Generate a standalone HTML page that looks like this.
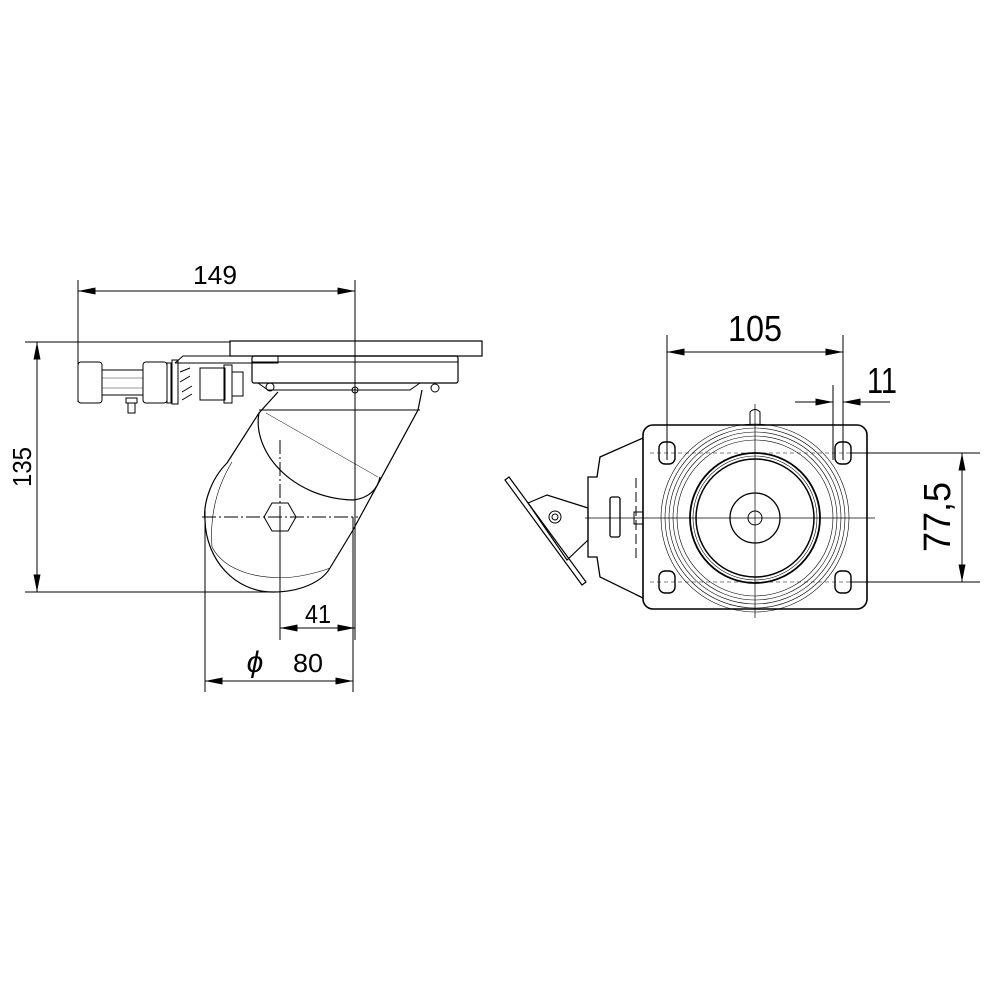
<!DOCTYPE html>
<html><head><meta charset="utf-8"><style>html,body{margin:0;padding:0;background:#fff}svg{display:block}</style></head>
<body>
<svg width="1000" height="1000" viewBox="0 0 1000 1000" xmlns="http://www.w3.org/2000/svg" font-family="Liberation Sans, sans-serif">
<defs>
<marker id="a" viewBox="0 0 10 4" refX="10" refY="2" markerWidth="24" markerHeight="7" markerUnits="userSpaceOnUse" orient="auto-start-reverse"><path d="M0,0 L10,2 L0,4Z" fill="#000"/></marker>
</defs>
<g stroke="#000" fill="none" stroke-width="1">
<line x1="78" y1="280" x2="78" y2="402"/>
<line x1="355" y1="280" x2="355" y2="640"/>
<line x1="78" y1="291" x2="355" y2="291" marker-start="url(#a)" marker-end="url(#a)"/>
<line x1="25" y1="342" x2="230" y2="342"/>
<line x1="25" y1="592" x2="275" y2="592"/>
<line x1="37" y1="342" x2="37" y2="592" marker-start="url(#a)" marker-end="url(#a)"/>
<line x1="280" y1="520" x2="280" y2="640"/>
<line x1="280" y1="628" x2="355" y2="628" marker-start="url(#a)" marker-end="url(#a)"/>
<line x1="205" y1="510" x2="205" y2="692"/>
<line x1="353" y1="517" x2="353" y2="692"/>
<line x1="205" y1="681" x2="353" y2="681" marker-start="url(#a)" marker-end="url(#a)"/>
<line x1="202" y1="517" x2="358" y2="517" stroke-dasharray="14,3,2,3"/>
<line x1="280" y1="440" x2="280" y2="610" stroke-dasharray="14,3,2,3"/>
<rect x="230" y="341" width="252" height="15" stroke-width="1.2"/>
<rect x="252" y="356" width="206" height="27" rx="2" stroke-width="1.2"/>
<line x1="252" y1="362" x2="458" y2="362"/>
<path d="M175,363 L278,363 L278,356 L183,356 L175,363"/>
<path d="M258,383 L268,390 L410,390 L420,383"/>
<line x1="259" y1="410" x2="420" y2="410"/>
<path d="M278,392 L259,413 L227,463" stroke-width="1.2"/>
<path d="M422,390 L418,410 L353,530 L330,568" stroke-width="1.2"/>
<path d="M259,413 C252,450 290,498 353,500 C370,498 378,488 380,477" stroke-width="1.2"/>
<line x1="266" y1="413" x2="378" y2="477" stroke-width="0.5"/>
<path d="M227,463 C210,480 203,505 205,520 C206,560 235,592 273,592 C300,592 322,582 330,568" stroke-width="1.2"/>
<path d="M212,547 C225,572 260,580 293,577 C310,575 325,570 330,568" stroke-width="0.6"/>
<path d="M232,462 C215,490 210,520 212,547" stroke-width="0.6"/>
<polygon points="264,517 272,503 288,503 296,517 288,531 272,531"/>
<rect x="78" y="362" width="24" height="41" rx="3"/>
<rect x="143" y="362" width="24" height="41" rx="3"/>
<path d="M102,370 L143,370 M102,395 L143,395"/>
<line x1="102" y1="378" x2="143" y2="378" stroke-width="0.4"/>
<line x1="102" y1="388" x2="143" y2="388" stroke-width="0.4"/>
<rect x="167" y="363" width="4" height="40"/>
<rect x="172" y="360" width="6" height="44"/>
<path d="M180,372 L190,368 M180,382 L190,376 M182,392 L192,386 M182,400 L192,394"/>
<rect x="200" y="368" width="25" height="32"/>
<rect x="224" y="365" width="8" height="38"/>
<rect x="232" y="372" width="11" height="24"/>
<rect x="128" y="403" width="7" height="10"/>
<rect x="126" y="398" width="11" height="5"/>
<circle cx="355" cy="390" r="3"/>
<circle cx="270" cy="387" r="4"/>
<circle cx="435" cy="388" r="4"/>
<line x1="667" y1="335" x2="667" y2="460"/>
<line x1="843" y1="335" x2="843" y2="460"/>
<line x1="833" y1="385" x2="833" y2="460"/>
<line x1="667" y1="352" x2="843" y2="352" marker-start="url(#a)" marker-end="url(#a)"/>
<line x1="795" y1="402" x2="833" y2="402" marker-end="url(#a)"/>
<line x1="843" y1="402" x2="890" y2="402"/>
<line x1="867" y1="402" x2="843" y2="402" marker-end="url(#a)"/>
<line x1="850" y1="453" x2="980" y2="453"/>
<line x1="850" y1="582" x2="980" y2="582"/>
<line x1="962" y1="453" x2="962" y2="582" marker-start="url(#a)" marker-end="url(#a)"/>
<rect x="643" y="425" width="224" height="184" rx="10" stroke-width="1.6"/>
<path d="M750,425 L750,412 Q755,407 760,412 L760,425"/>
<line x1="755" y1="404" x2="755" y2="618" stroke-width="0.7"/>
<line x1="585" y1="518" x2="875" y2="518" stroke-width="0.7"/>
<line x1="650" y1="453" x2="860" y2="453" stroke-dasharray="4,3" stroke-width="0.6"/>
<line x1="650" y1="582" x2="860" y2="582" stroke-dasharray="4,3" stroke-width="0.6"/>
<g stroke-width="0.6"><circle cx="755" cy="518" r="94"/><circle cx="755" cy="518" r="90"/><circle cx="755" cy="518" r="86"/><circle cx="755" cy="518" r="82"/><circle cx="755" cy="518" r="78"/><circle cx="755" cy="518" r="62"/></g>
<circle cx="755" cy="518" r="65" stroke-width="1.8"/>
<circle cx="755" cy="518" r="59" stroke-width="1.5"/>
<circle cx="755" cy="518" r="25" stroke-width="1.3"/>
<circle cx="755" cy="518" r="7"/>
<g stroke-width="1.4">
<rect x="659" y="442" width="16" height="22" rx="6"/><rect x="835" y="442" width="16" height="22" rx="6"/>
<rect x="659" y="571" width="16" height="22" rx="6"/><rect x="835" y="571" width="16" height="22" rx="6"/>
</g>
<path d="M643,438 L600,457 L597,477 L588,477 L588,557 L597,557 L600,577 L643,598" stroke-width="1.3"/>
<line x1="636" y1="478" x2="636" y2="558" stroke-dasharray="10,4"/>
<rect x="610" y="497" width="10" height="40" rx="2" stroke-width="1.3"/>
<rect x="634" y="512" width="9" height="12"/>
<path d="M528,503 L547,495 L588,508 L588,540 L567,560 Z" stroke-width="1.2"/>
<path d="M505,480 L509,477 L586,582 L582,585 Z" stroke-width="1.2"/>
<circle cx="555" cy="517" r="6"/><circle cx="555" cy="517" r="3"/>
</g>
<g font-size="30" fill="#000">
<text x="215" y="284" text-anchor="middle" font-size="26" textLength="44" lengthAdjust="spacingAndGlyphs">149</text>
<text transform="translate(31,467) rotate(-90)" text-anchor="middle" font-size="26" textLength="40" lengthAdjust="spacingAndGlyphs">135</text>
<text x="318" y="623" text-anchor="middle" font-size="26" textLength="26" lengthAdjust="spacingAndGlyphs">41</text>
<text x="255" y="672" text-anchor="middle" font-size="30" font-style="italic">ϕ</text>
<text x="308" y="672" text-anchor="middle" font-size="26" textLength="30" lengthAdjust="spacingAndGlyphs">80</text>
<text x="755" y="341" text-anchor="middle" font-size="36" textLength="54" lengthAdjust="spacingAndGlyphs">105</text>
<text x="882" y="393" text-anchor="middle" font-size="36" textLength="30" lengthAdjust="spacingAndGlyphs">11</text>
<text transform="translate(950,517) rotate(-90)" text-anchor="middle" font-size="38" textLength="70" lengthAdjust="spacingAndGlyphs">77,5</text>
</g>
</svg>
</body></html>
